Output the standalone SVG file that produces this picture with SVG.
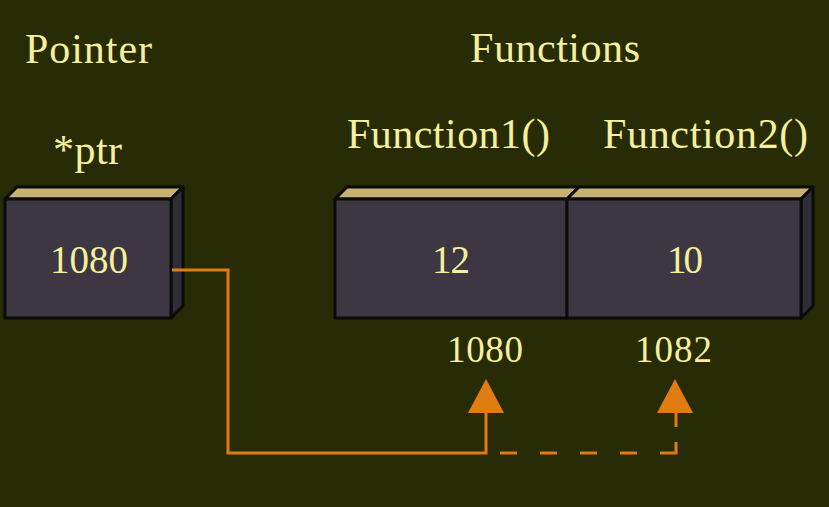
<svg xmlns="http://www.w3.org/2000/svg" width="829" height="507" viewBox="0 0 829 507">
<style>
.bg{fill:#272b06}
.t{font-family:"Liberation Serif","DejaVu Serif",serif;fill:#f6f09c}
.h{font-size:42px}
.n{font-size:39px}
.a{font-size:37px}
.front{fill:#3c3742;stroke:#0b0b0b;stroke-width:3;stroke-linejoin:round}
.top{fill:#c7b273;stroke:#0b0b0b;stroke-width:3;stroke-linejoin:round}
.side{fill:#2f2d36;stroke:#0b0b0b;stroke-width:3;stroke-linejoin:round}
.c{fill:none;stroke:#e07c12;stroke-width:3}
.head{fill:#e07c12}
</style>
<rect class="bg" x="0" y="0" width="829" height="507"/>
<g id="labels">
<text class="t h" x="25" y="63" textLength="127">Pointer</text>
<text class="t h" x="53" y="164" textLength="69">*ptr</text>
<text class="t h" x="470" y="62" textLength="170">Functions</text>
<text class="t h" x="347" y="148" textLength="203">Function1()</text>
<text class="t h" x="603" y="148" textLength="205">Function2()</text>
<text class="t a" x="447" y="362" textLength="76">1080</text>
<text class="t a" x="635" y="362" textLength="77">1082</text>
</g>
<g id="pointer">
<polygon class="top" points="5,199 17,187 183,187 171,199"/>
<polygon class="side" points="171,199 183,187 183,306 171,318"/>
<rect class="front" x="5" y="199" width="166" height="119"/>
<text class="t n" x="89" y="273" text-anchor="middle" textLength="78">1080</text>
</g>
<g id="function1">
<polygon class="top" points="335,199 347,187 579,187 567,199"/>
<rect class="front" x="335" y="199" width="232" height="119"/>
<text class="t n" x="451" y="273" text-anchor="middle" textLength="38">12</text>
</g>
<g id="function2">
<polygon class="top" points="567,199 579,187 813,187 801,199"/>
<polygon class="side" points="801,199 813,187 813,306 801,318"/>
<rect class="front" x="567" y="199" width="234" height="119"/>
<text class="t n" x="685" y="273" text-anchor="middle" textLength="36">10</text>
</g>
<g id="connectors">
<path class="c" d="M172,270 H228 V453 H486 V410"/>
<polygon class="head" points="486,379 468,413 504,413"/>
<path class="c" d="M500,453 H676 V410" stroke-dasharray="17,23,17,23,17,23,17,23,27,15,14"/>
<polygon class="head" points="675,379 657,413 693,413"/>
</g>
</svg>
